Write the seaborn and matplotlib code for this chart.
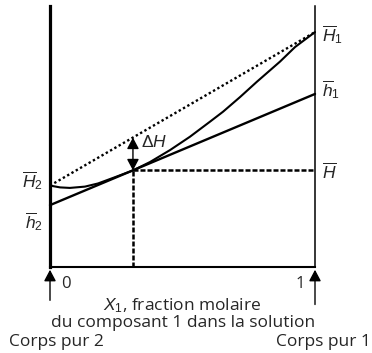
import matplotlib
matplotlib.use("Agg")
import matplotlib.pyplot as plt
import seaborn as sns
import numpy as np

sns.set_theme(style="white")
plt.rcParams["font.family"] = ["Open Sans", "DejaVu Sans"]
plt.rcParams["mathtext.fontset"] = "custom"
plt.rcParams["mathtext.rm"] = "Liberation Sans"
plt.rcParams["mathtext.it"] = "Liberation Sans:italic"

# Molar enthalpies of the pure bodies and partial molar enthalpies
H2_pure = 31.2      # \bar H_2
H1_pure = 90.0      # \bar H_1
h2_part = 23.7      # \bar h_2
h1_part = 66.3      # \bar h_1
x_sol = 0.313       # composition of the solution
H_sol = 37.0        # \bar H of the solution

# Molar enthalpy of the mixture versus X1
curve_x = [0.0, 0.038, 0.075, 0.132, 0.181, 0.245, 0.313, 0.377, 0.453,
           0.528, 0.604, 0.653, 0.717, 0.781, 0.868, 0.925, 1.0]
curve_y = [31.2, 30.5, 30.3, 30.8, 32.0, 34.4, 37.0, 40.2, 44.8,
           49.9, 55.7, 59.5, 65.1, 71.0, 78.7, 84.3, 90.0]

W, H = 372, 353
fig = plt.figure(figsize=(W / 100, H / 100), dpi=100)
ax = fig.add_axes([50 / W, (H - 267) / H, 265 / W, 261 / H])
ax.set_xlim(0, 1)
ax.set_ylim(0, 100)
ax.set_xticks([])
ax.set_yticks([])
ax.set_facecolor("none")
ax.spines["top"].set_visible(False)
ax.spines["left"].set_linewidth(2.3)
ax.spines["bottom"].set_linewidth(1.5)
ax.spines["right"].set_linewidth(1.1)
for s in ("left", "bottom", "right"):
    ax.spines[s].set_color("black")

line_kw = dict(ax=ax, color="black", estimator=None, sort=False, clip_on=False)
# ideal mixing line (dotted)
sns.lineplot(x=[0, 1], y=[H2_pure, H1_pure], lw=1.7,
             linestyle=(0, (1, 1.1)), **line_kw)
# tangent line
sns.lineplot(x=[0, 1], y=[h2_part, h1_part], lw=1.7, **line_kw)
# enthalpy curve
sns.lineplot(x=curve_x, y=curve_y, lw=1.5, **line_kw)
# composition and enthalpy guides
sns.lineplot(x=[x_sol, 1], y=[H_sol, H_sol], lw=1.8,
             linestyle=(0, (2, 0.8)), **line_kw)
sns.lineplot(x=[x_sol, x_sol], y=[0, H_sol], lw=1.8, orient="y",
             linestyle=(0, (2, 0.8)), **line_kw)

# Delta H double arrow
H_ideal = H2_pure + (H1_pure - H2_pure) * x_sol
arrow_style = "<|-|>,head_length=0.85,head_width=0.45"
ax.annotate("", xy=(x_sol, H_ideal), xytext=(x_sol, H_sol),
            arrowprops=dict(arrowstyle=arrow_style, color="black", lw=1.0,
                            shrinkA=0, shrinkB=0, mutation_scale=8))
ax.annotate(r"$\Delta H$", xy=(x_sol, (H_ideal + H_sol) / 2), xytext=(6, 8),
            textcoords="offset points", ha="left", va="center", fontsize=12.5)

# labels on the right axis
lab_kw = dict(textcoords="offset points", ha="left", va="center",
              fontsize=12.5, annotation_clip=False)
ax.annotate(r"$\overline{H}_1$", xy=(1, H1_pure), xytext=(5, -2), **lab_kw)
ax.annotate(r"$\overline{h}_1$", xy=(1, h1_part), xytext=(5, 3), **lab_kw)
ax.annotate(r"$\overline{H}$", xy=(1, H_sol), xytext=(5, -1), **lab_kw)
# labels on the left axis
lab_kw["ha"] = "right"
ax.annotate(r"$\overline{H}_2$", xy=(0, H2_pure), xytext=(-5, 4), **lab_kw)
ax.annotate(r"$\overline{h}_2$", xy=(0, h2_part), xytext=(-5, -12), **lab_kw)

# pure-body arrows under the axis
for xv, tail in ((0, -24), (1, -27)):
    ax.annotate("", xy=(xv, 0), xytext=(0, tail),
                textcoords="offset points",
                arrowprops=dict(arrowstyle="-|>,head_length=0.85,head_width=0.45",
                                color="black", lw=1.0, shrinkA=0, shrinkB=2,
                                mutation_scale=8),
                xycoords="data", annotation_clip=False)
ax.annotate("0", xy=(0, 0), xytext=(8, -12), textcoords="offset points",
            ha="left", va="center", fontsize=12, annotation_clip=False)
ax.annotate("1", xy=(1, 0), xytext=(-7, -12), textcoords="offset points",
            ha="right", va="center", fontsize=12, annotation_clip=False)

fs = 12.5
fig.text(182 / W, 1 - 306 / H, r"$X_1$, fraction molaire", ha="center",
         va="center", fontsize=fs)
fig.text(183 / W, 1 - 323 / H, "du composant 1 dans la solution", ha="center",
         va="center", fontsize=fs)
fig.text(9 / W, 1 - 342 / H, "Corps pur 2", ha="left", va="center",
         fontsize=fs)
fig.text(371 / W, 1 - 342 / H, "Corps pur 1", ha="right", va="center",
         fontsize=fs)

fig.savefig("out.png", dpi=100)
